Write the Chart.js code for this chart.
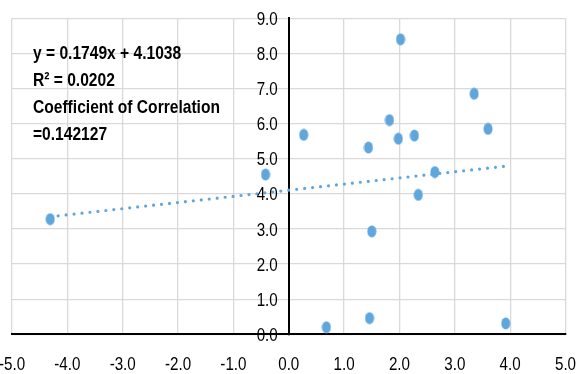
<!DOCTYPE html>
<html>
<head>
<meta charset="utf-8">
<script src="https://cdn.jsdelivr.net/npm/chart.js@4/dist/chart.umd.min.js"></script>
<style>
  html, body { margin: 0; padding: 0; background: #fff; overflow: hidden; }
  #wrap { position: absolute; left: -40px; top: 0; width: 660px; height: 374px; }
</style>
</head>
<body>
<div id="wrap"><canvas id="myChart"></canvas></div>
<script>
// Data
const xValues = [-4.31, -0.42, 0.27, 0.68, 1.44, 1.46, 1.5, 1.82, 1.98, 2.02, 2.27, 2.34, 2.64, 3.35, 3.6, 3.92];
const yValues = [3.28, 4.55, 5.68, 0.2, 5.32, 0.46, 2.93, 6.1, 5.57, 8.4, 5.66, 3.97, 4.62, 6.85, 5.85, 0.31];

// Trendline from the equation printed on the chart
const slope = 0.1749;
const intercept = 4.1038;

const noteLines = [
    "y = 0.1749x + 4.1038",
    "R\u00B2 = 0.0202",
    "Coefficient of Correlation",
    "=0.142127"
];

const blue = '#5fa6dc';
const fontName = "'Liberation Sans', Arial, sans-serif";
const narrow = 0.82; // squeeze Liberation Sans to look like a narrow face

const fmtTick = v => (v < 0 ? '-' : '') + Math.abs(v).toFixed(1);

const points = xValues.map((x, i) => ({ x: x, y: yValues[i] }));
const xMin = Math.min(...xValues);
const xMax = Math.max(...xValues);
const trend = [
    { x: xMin, y: slope * xMin + intercept },
    { x: xMax, y: slope * xMax + intercept }
];

// Oval marker like the one Excel draws
const marker = document.createElement('canvas');
marker.width = 10;
marker.height = 13;
const mctx = marker.getContext('2d');
mctx.fillStyle = blue;
mctx.beginPath();
mctx.ellipse(5, 6.5, 4.5, 6, 0, 0, Math.PI * 2);
mctx.fill();

function narrowText(c, text, x, y, align) {
    c.save();
    c.translate(x, y);
    c.scale(narrow, 1);
    c.textAlign = align;
    c.fillText(text, 0, 0);
    c.restore();
}

// tick labels and the equation box, drawn narrow
const textPlugin = {
    id: 'texts',
    afterDraw(chart) {
        const c = chart.ctx;
        const sx = chart.scales.x;
        const sy = chart.scales.y;
        c.save();
        c.fillStyle = '#000';
        c.font = "18.5px " + fontName;
        c.textBaseline = 'middle';
        sx.ticks.forEach(t => narrowText(c, fmtTick(t.value), sx.getPixelForValue(t.value), 365, 'center'));
        const yAxisX = sx.getPixelForValue(0) - 11;
        sy.ticks.forEach(t => narrowText(c, fmtTick(t.value), yAxisX, sy.getPixelForValue(t.value) + 1.5, 'right'));

        c.font = "bold 19px " + fontName;
        c.textBaseline = 'alphabetic';
        noteLines.forEach((t, i) => narrowText(c, t, 73, 59 + i * 27, 'left'));
        c.restore();
    }
};

const ctx = document.getElementById('myChart').getContext('2d');

new Chart(ctx, {
    type: 'scatter',
    data: {
        datasets: [{
            type: 'line',
            data: trend,
            borderColor: blue,
            borderWidth: 3.2,
            borderDash: [0, 8],
            borderCapStyle: 'round',
            pointRadius: 0,
            fill: false
        }, {
            data: points,
            pointStyle: marker,
            pointRadius: 5,
            backgroundColor: blue,
            borderColor: blue
        }]
    },
    options: {
        animation: false,
        responsive: true,
        maintainAspectRatio: false,
        layout: { padding: { left: 52, right: 54.5, top: 18.3, bottom: 39.7 } },
        plugins: {
            legend: { display: false },
            tooltip: { enabled: false }
        },
        scales: {
            x: {
                type: 'linear',
                position: 'bottom',
                min: -5,
                max: 5,
                ticks: { stepSize: 1, display: false },
                grid: { color: '#d9d9d9', lineWidth: 1.3, drawTicks: false },
                border: { color: '#000', width: 2 }
            },
            y: {
                type: 'linear',
                position: { x: 0 },
                min: 0,
                max: 9,
                ticks: { stepSize: 1, display: false },
                grid: { color: '#d9d9d9', lineWidth: 1.3, drawTicks: false },
                border: { color: '#000', width: 2 }
            }
        }
    },
    plugins: [textPlugin]
});
</script>
</body>
</html>
